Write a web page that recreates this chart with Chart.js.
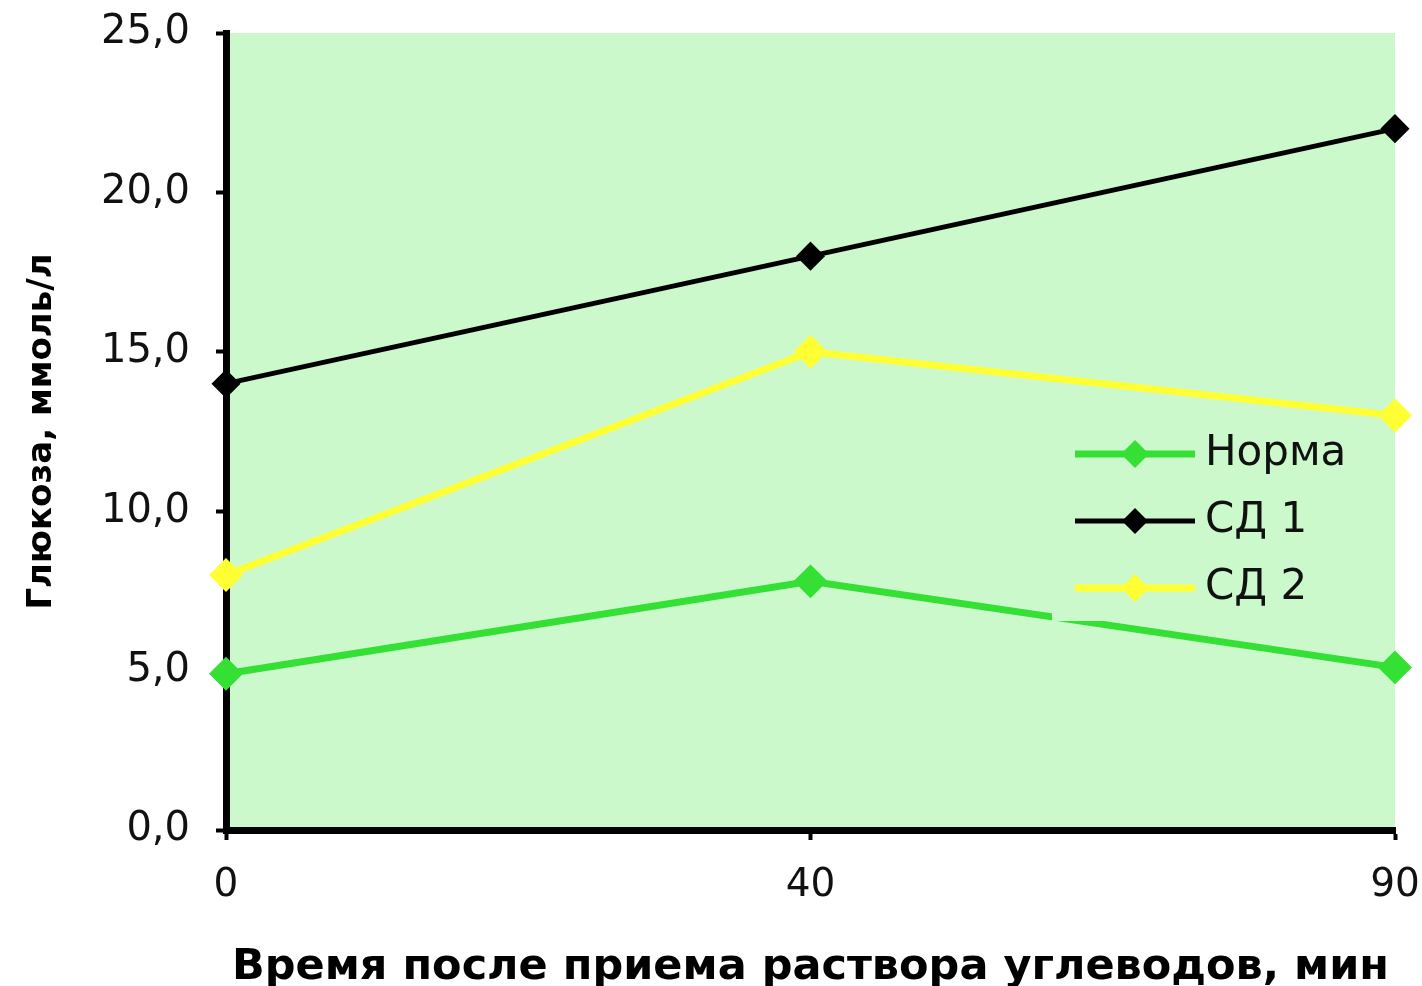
<!DOCTYPE html>
<html lang="ru">
<head>
    <meta charset="UTF-8">
    <script src="https://cdn.jsdelivr.net/npm/chart.js@4.4.0/dist/chart.umd.min.js"></script>
    <title>Глюкоза</title>
    <style>
        html, body { margin: 0; padding: 0; background: #fff; }
        #wrap { width: 1422px; height: 986px; }
    </style>
</head>
<body>
    <div id="wrap"><canvas id="chart" width="1422" height="986"></canvas></div>

    <script>
        // time after taking the carbohydrate solution, min
        const minutes = ['0', '40', '90'];
        // glucose, mmol/l
        const norma = [4.9, 7.8, 5.1];
        const sd1 = [14.0, 18.0, 22.0];
        const sd2 = [8.0, 15.0, 13.0];
        const seriesNames = ['Норма', 'СД 1', 'СД 2'];
        const yTicks = [0, 5, 10, 15, 20, 25];

        const plotGreen = '#ccf9cc';

        // green fill behind the plot area (drawn before the axes so the thick border stays whole)
        const plotBg = {
            id: 'plotBg',
            beforeDraw(chart) {
                const a = chart.chartArea;
                const ctx = chart.ctx;
                ctx.save();
                ctx.fillStyle = plotGreen;
                ctx.fillRect(a.left, a.top, a.right - a.left, a.bottom - a.top);
                ctx.restore();
            }
        };

        // legend sits inside the plot, its box covers the lines behind it
        const insideLegend = {
            id: 'insideLegend',
            afterDatasetsDraw(chart) {
                const a = chart.chartArea;
                const ctx = chart.ctx;
                const boxLeft = a.right - 343, boxTop = a.top + 390;
                ctx.save();
                ctx.fillStyle = plotGreen;
                ctx.fillRect(boxLeft, boxTop, 318, 198);
                chart.data.datasets.forEach((ds, i) => {
                    const y = boxTop + 31 + i * 67;
                    const x0 = boxLeft + 23, x1 = boxLeft + 143;
                    ctx.strokeStyle = ds.borderColor;
                    ctx.lineWidth = ds.borderWidth;
                    ctx.beginPath();
                    ctx.moveTo(x0, y);
                    ctx.lineTo(x1, y);
                    ctx.stroke();
                    // diamond marker
                    const r = ds.pointRadius + 2;
                    const cx = (x0 + x1) / 2;
                    ctx.fillStyle = ds.pointBackgroundColor;
                    ctx.beginPath();
                    ctx.moveTo(cx, y - r);
                    ctx.lineTo(cx + r, y);
                    ctx.lineTo(cx, y + r);
                    ctx.lineTo(cx - r, y);
                    ctx.closePath();
                    ctx.fill();
                    ctx.fillStyle = '#111';
                    ctx.font = '42px "DejaVu Sans"';
                    ctx.textAlign = 'left';
                    ctx.textBaseline = 'middle';
                    ctx.fillText(ds.label, x1 + 10, y);
                });
                ctx.restore();
            }
        };

        const ctx = document.getElementById('chart').getContext('2d');

        const data = {
            labels: minutes,
            datasets: [
                {
                    label: seriesNames[0],
                    data: norma,
                    borderColor: '#33e033',
                    backgroundColor: '#33e033',
                    pointBackgroundColor: '#33e033',
                    pointBorderColor: '#33e033',
                    borderWidth: 7,
                    pointStyle: 'rectRot',
                    pointRadius: 12
                },
                {
                    label: seriesNames[1],
                    data: sd1,
                    borderColor: '#000000',
                    backgroundColor: '#000000',
                    pointBackgroundColor: '#000000',
                    pointBorderColor: '#000000',
                    borderWidth: 5,
                    pointStyle: 'rectRot',
                    pointRadius: 11
                },
                {
                    label: seriesNames[2],
                    data: sd2,
                    borderColor: '#ffff33',
                    backgroundColor: '#ffff33',
                    pointBackgroundColor: '#ffff33',
                    pointBorderColor: '#ffff33',
                    borderWidth: 7,
                    pointStyle: 'rectRot',
                    pointRadius: 12
                }
            ]
        };

        const options = {
            responsive: false,
            animation: false,
            layout: { padding: { top: 33, right: 27, left: 0, bottom: 0 } },
            plugins: {
                legend: { display: false },
                tooltip: { enabled: false }
            },
            scales: {
                x: {
                    offset: false,
                    afterFit: (scale) => {
                        scale.height = 156;
                        scale.paddingLeft = 0;
                        scale.paddingRight = 0;
                    },
                    border: { color: '#000', width: 7 },
                    grid: {
                        drawOnChartArea: false,
                        drawTicks: true,
                        tickLength: 10,
                        tickWidth: 4,
                        tickColor: '#000'
                    },
                    ticks: {
                        color: '#111',
                        padding: 22,
                        maxRotation: 0,
                        font: { family: 'DejaVu Sans', size: 39 }
                    },
                    title: {
                        display: true,
                        text: 'Время после приема раствора углеводов, мин',
                        color: '#000',
                        padding: { top: 6, bottom: -8 },
                        font: { family: 'DejaVu Sans', size: 43, weight: 'bold' }
                    }
                },
                y: {
                    min: 0,
                    max: 25,
                    afterFit: (scale) => {
                        scale.width = 226;
                        scale.paddingTop = 0;
                        scale.paddingBottom = 0;
                    },
                    afterBuildTicks: (scale) => {
                        scale.ticks = yTicks.map(v => ({ value: v }));
                    },
                    border: { color: '#000', width: 7 },
                    grid: {
                        drawOnChartArea: false,
                        drawTicks: true,
                        tickLength: 10,
                        tickWidth: 4,
                        tickColor: '#000'
                    },
                    ticks: {
                        color: '#111',
                        padding: 26,
                        font: { family: 'DejaVu Sans', size: 40 },
                        callback: (v) => v.toFixed(1).replace('.', ',')
                    },
                    title: {
                        display: true,
                        text: 'Глюкоза, ммоль/л',
                        color: '#000',
                        padding: { top: 22, bottom: 0 },
                        font: { family: 'DejaVu Sans', size: 34, weight: 'bold' }
                    }
                }
            }
        };

        const myChart = new Chart(ctx, {
            type: 'line',
            data: data,
            options: options,
            plugins: [plotBg, insideLegend]
        });
    </script>
</body>
</html>
